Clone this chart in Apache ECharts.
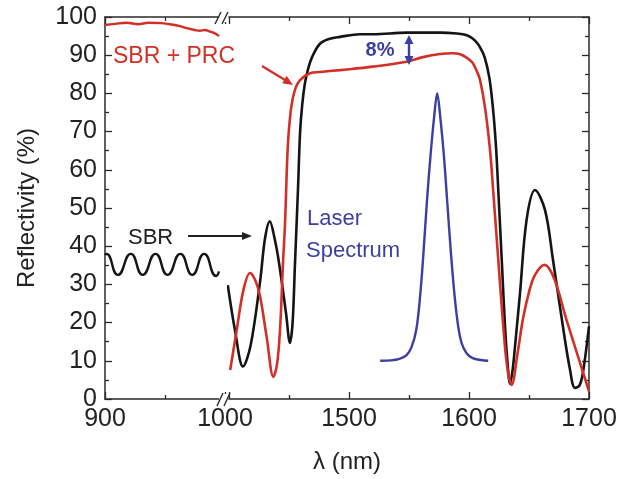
<!DOCTYPE html>
<html>
<head>
<meta charset="utf-8">
<script src="https://cdn.jsdelivr.net/npm/echarts@6/dist/echarts.min.js"></script>
<style>
html,body{margin:0;padding:0;background:#fff;}
#chart{width:622px;height:479px;}
</style>
</head>
<body>
<div id="chart"></div>
<script>
// ---- Data (wavelength in nm, reflectivity in %) ----
const sbrLeftWl = [900,901.2,910.7,921.5,931.4,942.1,952.1,962.8,972.7,982.6,992.6,995];
const sbrLeftR  = [37.7,38,32.5,38,32.5,38,32.5,38,32.5,38,32.2,33.4];

const prcLeftWl = [900,908.3,918,927.8,936,947,958,964,969,975,979,983,987.5,991.7,995];
const prcLeftR  = [97.9,98.2,98.5,98.1,98.5,98.4,97.9,97.5,97.0,96.6,96.4,96.6,96.2,95.7,95.0];

const sbrRightWl = [1399,1405,1411.7,1418,1426,1430,1434,1438,1441.7,1447.5,1450.8,1453,1455,1457.5,1459.2,1461,1463.3,1466,1469.2,1475.8,1484,1492.5,1509,1520,1548,1576,1590,1596,1601,1605,1609,1613,1617,1620,1622.5,1624.5,1627.3,1630,1632,1634.2,1636.5,1639,1642.5,1648,1655,1663.3,1670,1678.3,1684,1688.3,1692,1695,1700];
const sbrRightR  = [29.8,18,8.5,14,31,42,46.5,42,35.6,22.5,14.7,20,35.6,55,69.6,77,82.7,86.5,89.5,93,94.3,94.8,95.5,95.5,95.9,95.9,95.7,95.4,94.8,93.8,92.2,89.5,84,76,66,54,36.4,19,10,4,8,16,27.7,46.9,54.7,49.5,36.4,18.9,8,2.9,3.5,7,19];

const prcRightWl = [1401,1406.4,1412,1417.5,1422,1426,1431.4,1437,1440,1442.5,1445,1446.7,1449,1451.7,1455,1459.2,1467.5,1475.8,1492.5,1520,1548,1561.7,1575.8,1586.7,1592,1598.3,1603,1606.7,1609.2,1613.3,1617.5,1620.3,1624.4,1628.6,1632,1635.6,1640,1645,1650,1655,1663,1671,1681,1692,1700];
const prcRightR  = [7.6,18,28.5,33,31,26.7,16.2,5.8,9,18,35.6,46,66,76,81,83.5,85.3,85.6,86.1,87,88.3,89.5,90.3,90.5,90.3,89.3,88,85.7,83.5,76.4,65.2,53.9,36.4,18.9,8,3.7,11,21,28,32.5,35.1,31.5,21,10,2];

const laserWl = [1526,1535,1542,1548,1552,1556,1559,1562,1565,1568,1571,1573.5,1576,1579,1582,1585,1588,1591,1594,1598,1603,1610,1616];
const laserR  = [10,10.1,10.5,11.5,13.5,18,26,38,52,64,74,80,74,64,51,38,27,19,14.5,12,10.7,10.2,10];

const yTicks = {min:0, max:100, interval:10};
const leftX = {min:900, max:1000, interval:100};
const rightX = {min:1400, max:1700, interval:100};

const zip = (a,b) => a.map((v,i)=>[v,b[i]]);

const FONT = '"Liberation Sans", Arial, Helvetica, sans-serif';
const AX = '#2a2a2a';
const RED = '#d22f26';
const BLK = '#141414';
const BLUE = '#3b3f9f';

function xAxisBase(grid, range, pos, showLabels, hideFirst){
  return {
    type:'value', gridIndex:grid, position:pos,
    min:range.min, max:range.max, interval:range.interval,
    axisLine:{show:true, onZero:false, lineStyle:{color:AX, width:1.5}},
    axisTick:{show:true, inside:true, length:7, lineStyle:{color:AX, width:1.3}},
    minorTick:{show:true, splitNumber:2, length:4, lineStyle:{color:AX, width:1.3}},
    splitLine:{show:false},
    axisLabel:{show:showLabels, margin:8, fontSize:25, color:'#222', fontFamily:FONT,
      formatter: v => (hideFirst && v===range.min) ? '' : String(v),
      showMinLabel:true, showMaxLabel:true}
  };
}
function yAxisBase(grid, pos, showLine, showLabels){
  return {
    type:'value', gridIndex:grid, position:pos,
    min:yTicks.min, max:yTicks.max, interval:yTicks.interval,
    axisLine:{show:showLine, onZero:false, lineStyle:{color:AX, width:1.5}},
    axisTick:{show:showLine, inside:true, length:7, lineStyle:{color:AX, width:1.3}},
    minorTick:{show:showLine, splitNumber:2, length:4, lineStyle:{color:AX, width:1.3}},
    splitLine:{show:false},
    axisLabel:{show:showLabels, margin:8, fontSize:25, color:'#222', fontFamily:FONT}
  };
}

const chart = echarts.init(document.getElementById('chart'), null, {renderer:'canvas'});

const lineSeries = (name, xi, yi, data, color, w, sm) => ({
  name, type:'line', xAxisIndex:xi, yAxisIndex:yi, data, smooth:sm,
  showSymbol:false, symbol:'none', lineStyle:{color, width:w}, itemStyle:{color}, z:3
});

chart.setOption({
  animation:false,
  backgroundColor:'#fff',
  grid:[
    {left:105, top:17, width:120, height:382, containLabel:false},
    {left:229, top:17, width:360, height:382, containLabel:false}
  ],
  xAxis:[
    xAxisBase(0, leftX, 'bottom', true, false),
    xAxisBase(0, leftX, 'top', false, false),
    xAxisBase(1, rightX, 'bottom', true, true),
    xAxisBase(1, rightX, 'top', false, false)
  ],
  yAxis:[
    Object.assign(yAxisBase(0, 'left', true, true), {
      name:'Reflectivity (%)', nameLocation:'middle', nameGap:66,
      nameTextStyle:{fontSize:24, color:'#222', fontFamily:FONT}
    }),
    yAxisBase(1, 'left', false, false),
    yAxisBase(1, 'right', true, false)
  ],
  series:[
    lineSeries('SBR left', 0, 0, zip(sbrLeftWl, sbrLeftR), BLK, 2.4, 0.55),
    lineSeries('SBR + PRC left', 0, 0, zip(prcLeftWl, prcLeftR), RED, 2.4, 0.4),
    lineSeries('SBR', 2, 1, zip(sbrRightWl, sbrRightR), BLK, 2.6, 0.35),
    lineSeries('SBR + PRC', 2, 1, zip(prcRightWl, prcRightR), RED, 2.6, 0.35),
    lineSeries('Laser Spectrum', 2, 1, zip(laserWl, laserR), BLUE, 2.4, 0.35)
  ],
  graphic:[
    // axis break marks
    {type:'rect', z:100, shape:{x:219, y:12, width:9, height:10}, style:{fill:'#fff'}},
    {type:'rect', z:100, shape:{x:219, y:394, width:9, height:10}, style:{fill:'#fff'}},
    {type:'line', z:101, shape:{x1:215, y1:24, x2:221, y2:12}, style:{stroke:AX, lineWidth:1.4}},
    {type:'line', z:101, shape:{x1:222, y1:24, x2:228, y2:12}, style:{stroke:AX, lineWidth:1.4}},
    {type:'line', z:101, shape:{x1:217, y1:406, x2:223, y2:393}, style:{stroke:AX, lineWidth:1.4}},
    {type:'line', z:101, shape:{x1:224, y1:406, x2:230, y2:393}, style:{stroke:AX, lineWidth:1.4}},
    // x axis title
    {type:'text', z:100, x:347, y:462, style:{text:'λ (nm)', fontSize:24, fill:'#222', fontFamily:FONT, textAlign:'center', textVerticalAlign:'middle'}},
    // SBR + PRC label and arrow
    {type:'text', z:100, x:113, y:57, style:{text:'SBR + PRC', fontSize:23, fill:RED, fontFamily:FONT, textAlign:'left', textVerticalAlign:'middle'}},
    {type:'line', z:100, shape:{x1:262, y1:66, x2:285, y2:80}, style:{stroke:RED, lineWidth:2.2}},
    {type:'polygon', z:100, shape:{points:[[293,85],[282.2,83.2],[286.6,75.8]]}, style:{fill:RED}},
    // SBR label and arrow
    {type:'text', z:100, x:128, y:238, style:{text:'SBR', fontSize:22, fill:'#222', fontFamily:FONT, textAlign:'left', textVerticalAlign:'middle'}},
    {type:'line', z:100, shape:{x1:188, y1:236, x2:244, y2:236}, style:{stroke:'#222', lineWidth:1.8}},
    {type:'polygon', z:100, shape:{points:[[252,236],[242,232],[242,240]]}, style:{fill:'#222'}},
    // Laser spectrum label
    {type:'text', z:100, x:307, y:219, style:{text:'Laser', fontSize:22, fill:BLUE, fontFamily:FONT, textAlign:'left', textVerticalAlign:'middle'}},
    {type:'text', z:100, x:306, y:251, style:{text:'Spectrum', fontSize:22, fill:BLUE, fontFamily:FONT, textAlign:'left', textVerticalAlign:'middle'}},
    // 8% annotation
    {type:'text', z:100, x:380, y:50, style:{text:'8%', fontSize:20, fontWeight:'bold', fill:BLUE, fontFamily:FONT, textAlign:'center', textVerticalAlign:'middle'}},
    {type:'line', z:100, shape:{x1:409, y1:42, x2:409, y2:58}, style:{stroke:BLUE, lineWidth:2.4}},
    {type:'polygon', z:100, shape:{points:[[409,35],[404.5,44],[413.5,44]]}, style:{fill:BLUE}},
    {type:'polygon', z:100, shape:{points:[[409,65],[404.5,56],[413.5,56]]}, style:{fill:BLUE}}
  ]
});
</script>
</body>
</html>
